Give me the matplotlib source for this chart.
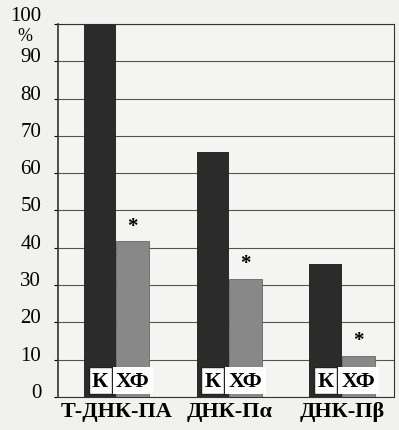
import matplotlib.pyplot as plt
import matplotlib.transforms as mtransforms
import numpy as np

groups = ["Т-ДНК-ПА", "ДНК-Пα", "ДНК-Пβ"]
control = [100, 65.7, 35.7]
chf = [41.7, 31.6, 11.0]
yticks = [0, 10, 20, 30, 40, 50, 60, 70, 80, 90, 100]

plt.rcParams['font.family'] = ['Liberation Serif', 'DejaVu Serif']

fig = plt.figure(figsize=(3.99, 4.31), dpi=100, facecolor='#f1f1ef')
ax = fig.add_axes([0.145, 0.077, 0.842, 0.865])
ax.set_facecolor('#f4f4f2')

x = np.arange(len(groups))
w = 0.29
ax.bar(x - w / 2, control, w, color='#2b2b2b', zorder=3)
ax.bar(x + w / 2, chf, w, color='#888888', edgecolor='#666666', linewidth=0.6, zorder=3)

# stars over the ХФ bars, group names inside the bar bases
for i in range(len(groups)):
    ax.text(x[i] + w / 2, chf[i] + 1.5, "*", ha='center', va='bottom',
            fontsize=15, fontweight='bold', zorder=5)
    ax.text(x[i] - w / 2, 4.3, "К", ha='center', va='center', fontsize=16,
            fontweight='bold', zorder=5,
            bbox=dict(boxstyle='square,pad=0.15', fc='white', ec='#222222', lw=1.0))
    ax.text(x[i] + w / 2, 4.3, "ХФ", ha='center', va='center', fontsize=16,
            fontweight='bold', zorder=5,
            bbox=dict(boxstyle='square,pad=0.15', fc='white', ec='none'))

ax.set_ylim(0, 100)
ax.set_xlim(-0.52, 2.46)
ax.set_yticks(yticks)
ax.set_yticklabels([str(t) for t in yticks], fontsize=15)
ax.tick_params(axis='y', length=3, width=0.8, pad=9)
# tick labels sit a little above their grid lines, the top one a bit more
for lab, t in zip(ax.get_yticklabels(), yticks):
    up = 8 if t == 100 else 5
    lift = mtransforms.ScaledTranslation(0, up / 72, fig.dpi_scale_trans)
    lab.set_transform(lab.get_transform() + lift)
ax.set_xticks(x)
ax.set_xticklabels(groups, fontsize=16, fontweight='bold')
ax.tick_params(axis='x', length=0, pad=3)
ax.grid(axis='y', color='#555555', linewidth=0.8, zorder=1)
for s in ax.spines.values():
    s.set_color('#333333')
    s.set_linewidth(0.8)
ax.spines['left'].set_linewidth(1.2)

ax.text(-0.098, 0.968, "%", transform=ax.transAxes, ha='center', va='center', fontsize=13)

fig.savefig("out.png", dpi=100, facecolor=fig.get_facecolor())
